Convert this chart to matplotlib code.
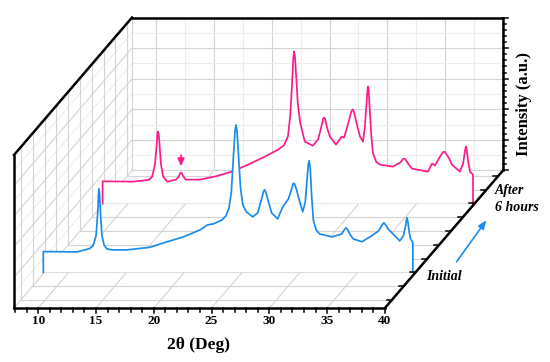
import numpy as np
import matplotlib
matplotlib.use("Agg")
import matplotlib.pyplot as plt
from matplotlib.patches import Polygon

plt.rcParams['font.family'] = ['Liberation Serif', 'DejaVu Serif']

# values: 2theta (deg) and intensity (a.u., 0-100 = front wall height)
x_init = [7.78, 10.7, 11.8, 12.1, 12.35, 12.5, 12.56, 12.6, 12.65, 12.72, 12.85, 13.05, 13.3,
          13.8, 15.0, 17.0, 18.5, 19.9, 21.35, 22.0, 22.5, 23.25, 23.6, 23.85, 24.05, 24.25,
          24.38, 24.46, 24.55, 24.68, 24.85, 25.05, 25.35, 25.9, 26.33, 26.6, 26.85, 26.94, 27.05,
          27.3, 27.54, 28.06, 28.5, 29.0, 29.25, 29.4, 29.5, 29.7, 29.97, 30.23, 30.45, 30.62,
          30.72, 30.78, 30.88, 31.0, 31.15, 31.4, 31.7, 32.76, 33.6, 33.85, 33.97, 34.1, 34.3,
          34.6, 35.35, 36.2, 36.8, 37.1, 37.25, 37.4, 37.65, 37.94, 38.63, 38.95, 39.15, 39.24,
          39.33, 39.45, 39.55, 39.76]
y_init = [13.5, 13.3, 15.5, 17.5, 24, 40, 51, 54.5, 51, 40, 24, 17.5, 15.2,
          14.6, 14.6, 16.3, 19.9, 23.1, 27.7, 31.0, 31.6, 34.2, 37, 42, 52, 78,
          93, 96.3, 92, 75, 55, 44, 39.5, 36.2, 38.8, 46, 53, 53.9, 52,
          45, 38.8, 34.9, 42.7, 48.0, 54, 58, 58, 54, 46, 39.5, 46, 62,
          71, 72.8, 68, 50, 34, 27.5, 25, 23.1, 25, 28, 29.0, 28, 25,
          21.8, 19.9, 23.8, 27.1, 31, 32.3, 31, 28, 25.8, 20.5, 24, 31, 35.6,
          33, 26, 22.0, 19.2]

x_6h = [7.81, 10.44, 11.8, 12.1, 12.35, 12.5, 12.56, 12.6, 12.65, 12.72, 12.85, 13.05, 13.4,
        14.16, 14.4, 14.52, 14.59, 14.66, 14.8, 15.0, 16.2, 17.5, 19.0, 20.4, 21.86, 23.0,
        23.5, 23.85, 24.05, 24.2, 24.3, 24.37, 24.45, 24.55, 24.7, 24.9, 25.3, 26.0, 26.45,
        26.7, 26.9, 26.97, 27.05, 27.25, 27.48, 28.0, 28.5, 28.7, 29.05, 29.3, 29.43, 29.47,
        29.55, 29.8, 30.08, 30.34, 30.5, 30.65, 30.74, 30.77, 30.82, 30.92, 31.05, 31.2, 31.5,
        31.81, 32.94, 33.6, 33.8, 33.89, 34.0, 34.25, 34.58, 35.97, 36.31, 36.57, 36.95, 37.25,
        37.35, 37.45, 37.75, 38.04, 38.73, 39.0, 39.18, 39.25, 39.32, 39.45, 39.6, 39.86]
y_6h = [14.5, 14.3, 15.4, 17.5, 26, 40, 46, 47, 46, 40, 26, 17.5, 14.3,
        15.6, 17.6, 19.8, 20.2, 19.8, 17.6, 15.6, 15.6, 17.6, 20.8, 25.4, 30.7, 35.2,
        38, 44, 58, 78, 94, 99.3, 96, 84, 65, 53, 40.5, 37.8, 41.8,
        49, 55.5, 56.1, 55.5, 49, 43.7, 38.5, 43.7, 43.1, 52, 59.5, 61.4, 61.4,
        60, 52, 43.7, 40.5, 50, 66, 75, 76.4, 75, 62, 45, 33, 27,
        25.4, 24.1, 27, 29, 29.3, 29, 26, 22.8, 20.8, 26.1, 24.8, 30, 33.5,
        33.9, 33.5, 30, 25.4, 20.8, 26, 35, 37.2, 35, 27, 20.8, 18.9]

depth_init = 0.26
depth_6h = 0.76
depth_ticks = [0.06, 0.16, 0.26, 0.36, 0.46, 0.56, 0.66, 0.76, 0.86, 0.96]
x_major = [10, 15, 20, 25, 30, 35, 40]

XMIN, XMAX = 7.9, 40.0
YMAX = 100.0
PX_X, PX_Y = 11.556, 1.53          # pixels per unit
DX, DY = 118 / PX_X, 137.5 / PX_Y  # oblique shift for depth 0 -> 1

blue = '#1a8cee'
pink = '#ff1a8c'
grid_major = '#d4d4d4'
grid_minor = '#ededed'


def proj(x, y, t):
    x = np.asarray(x, dtype=float)
    y = np.asarray(y, dtype=float)
    t = np.asarray(t, dtype=float)
    return x + t * DX, y + t * DY


def line3(ax, x, y, t, **kw):
    px, py = proj(x, y, t)
    ax.plot(px, py, solid_capstyle='projecting', **kw)


fig = plt.figure(figsize=(5.5, 3.62), dpi=100)
ax = fig.add_axes([0, 0, 1, 1])
x_left = XMIN - 14 / PX_X
y_bot = -54 / PX_Y
ax.set_xlim(x_left, x_left + 550 / PX_X)
ax.set_ylim(y_bot, y_bot + 362 / PX_Y)
ax.axis('off')

# ---- walls grid ----
for v in np.arange(10, 40, 2.5):
    c = grid_major if v % 5 == 0 else grid_minor
    line3(ax, [v, v], [0, YMAX], [1, 1], color=c, lw=0.8, zorder=1)      # back wall
for v in x_major[:-1]:
    line3(ax, [v, v], [0, 0], [0, 1], color=grid_major, lw=0.8, zorder=1)  # floor
for v in range(10, 100, 10):
    c = grid_major if v % 20 == 0 else grid_minor
    line3(ax, [XMIN, XMAX], [v, v], [1, 1], color=c, lw=0.8, zorder=1)    # back wall
    line3(ax, [XMIN, XMIN], [v, v], [0, 1], color=c, lw=0.8, zorder=1)    # left wall
for t in depth_ticks:
    line3(ax, [XMIN, XMIN], [0, YMAX], [t, t], color=grid_major, lw=0.8, zorder=1)
    line3(ax, [XMIN, XMAX], [0, 0], [t, t], color=grid_major, lw=0.8, zorder=1)
line3(ax, [XMIN, XMIN], [0, YMAX], [1, 1], color=grid_major, lw=0.8, zorder=1)
line3(ax, [XMIN, XMAX], [0, 0], [1, 1], color=grid_major, lw=0.8, zorder=1)
line3(ax, [XMIN, XMIN], [0, 0], [0, 1], color=grid_major, lw=0.8, zorder=1)

# ---- curves, back to front, each with a white curtain below ----
for xs, ys, t, col, z in [(x_6h, y_6h, depth_6h, pink, 3), (x_init, y_init, depth_init, blue, 5)]:
    px, py = proj(xs, ys, t)
    fx, fy = proj([xs[-1], xs[0]], [0, 0], t)
    poly = Polygon(np.column_stack([np.r_[px, fx], np.r_[py, fy]]), closed=True,
                   facecolor='white', edgecolor='none', zorder=z)
    ax.add_patch(poly)
    ax.plot(np.r_[fx[1], px, fx[0]], np.r_[fy[1], py, fy[0]], color=col, lw=1.25,
            solid_joinstyle='round', zorder=z + 0.5)

# ---- frame ----
frame = dict(color='black', lw=1.8, zorder=8)
line3(ax, [XMIN, XMIN], [0, YMAX], [0, 0], **frame)
line3(ax, [XMIN, XMAX], [0, 0], [0, 0], **frame)
line3(ax, [XMAX, XMAX], [0, 0], [0, 1], **frame)
line3(ax, [XMIN, XMIN], [YMAX, YMAX], [0, 1], **frame)
line3(ax, [XMIN, XMAX], [YMAX, YMAX], [1, 1], **frame)
line3(ax, [XMAX, XMAX], [0, YMAX], [1, 1], **frame)

tick = dict(color='black', lw=1.1, zorder=8)
for v in range(8, 41):
    ln = 3.2 if v % 5 == 0 else 2.4
    line3(ax, [v, v], [0, -ln], [0, 0], **tick)
for v in range(0, 101, 4):
    ln = 0.45 if v % 20 == 0 else 0.3
    line3(ax, [XMAX, XMAX + ln], [v, v], [1, 1], **tick)
for t in depth_ticks:
    line3(ax, [XMAX, XMAX - 0.45], [0, 0], [t, t], **tick)

lab = dict(fontweight='bold', color='black')
for v in x_major:
    tx, ty = proj(v, -8.5, 0)
    ax.text(tx, ty, str(v), ha='center', va='center', fontsize=9.5, **lab)

ax.text(23.9, -24.5, '2θ (Deg)', ha='center', va='center', fontsize=12.5, **lab)
ax.text(x_left + 524 / PX_X, y_bot + 258 / PX_Y, 'Intensity (a.u.)', rotation=90,
        ha='center', va='center', fontsize=12, **lab)
ax.text(x_left + 495 / PX_X, y_bot + 178 / PX_Y, 'After\n6 hours', ha='left', va='top',
        fontsize=10, fontstyle='italic', linespacing=1.45, **lab)
ax.text(x_left + 444 / PX_X, y_bot + 86 / PX_Y, 'Initial', ha='center', va='center',
        fontsize=10, fontstyle='italic', **lab)

ax.annotate('', xy=(x_left + 488 / PX_X, y_bot + 144 / PX_Y),
            xytext=(x_left + 455 / PX_X, y_bot + 98 / PX_Y),
            arrowprops=dict(arrowstyle='-|>,head_length=0.5,head_width=0.2', color=blue, lw=1.2),
            zorder=9)
ax.annotate('', xy=proj(14.59, 22.5, depth_6h), xytext=proj(14.59, 33.5, depth_6h),
            arrowprops=dict(arrowstyle='-|>,head_length=0.45,head_width=0.2', color=pink, lw=1.2),
            zorder=9)

fig.savefig('out.png', dpi=100)
